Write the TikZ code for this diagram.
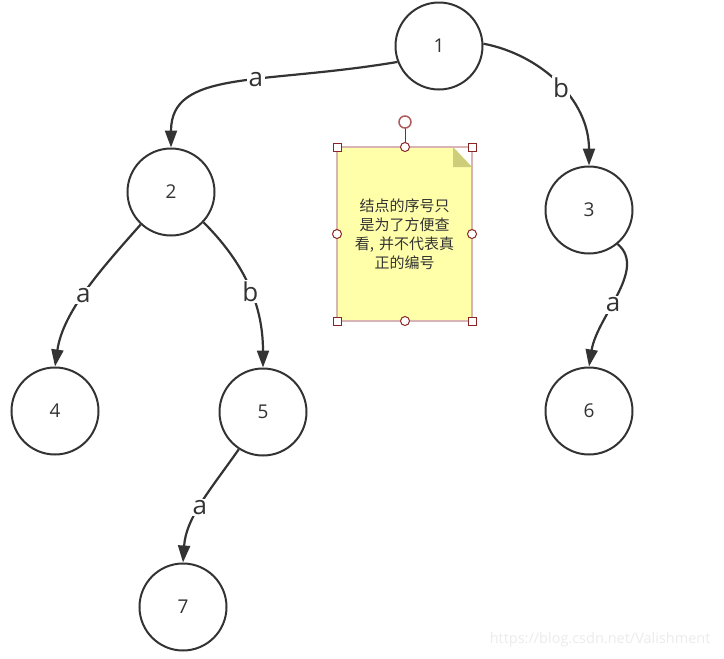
\documentclass[tikz,border=0pt]{standalone}
\usepackage{fontspec}
\setmainfont{Open Sans}
\newfontfamily\cjk{Noto Sans CJK SC}
\usetikzlibrary{arrows.meta}
\definecolor{ink}{HTML}{333333}
\definecolor{notefill}{HTML}{FFFFAA}
\definecolor{notefold}{HTML}{CDCD7A}
\definecolor{noteedge}{HTML}{D8B4B4}
\definecolor{handle}{HTML}{8B2525}
\definecolor{rothandle}{HTML}{B05A5A}
\definecolor{wmark}{HTML}{EBEBEB}
\tikzset{
  state/.style={circle, draw=ink, line width=2pt, fill=white, minimum size=87pt, inner sep=0pt, font=\fontsize{19}{22}\selectfont, text=ink},
  edge/.style={draw=ink, line width=2.2pt, -{Triangle[length=17pt,width=12pt]}},
  elabel/.style={fill=white, inner sep=1.5pt, font=\fontsize{26}{28}\selectfont, text=ink},
  sqhandle/.style={draw=handle, fill=white, line width=1pt, minimum size=8pt, inner sep=0pt},
  rdhandle/.style={circle, draw=handle, fill=white, line width=1pt, minimum size=9pt, inner sep=0pt},
}
\begin{document}
\begin{tikzpicture}[x=1pt, y=-1pt]
\useasboundingbox (0,0) rectangle (724,659);
% note
\fill[notefill] (337,147) -- (453,147) -- (472,167) -- (472,321) -- (337,321) -- cycle;
\fill[notefold] (453,147) -- (472,167) -- (453,167) -- cycle;
\draw[noteedge, line width=1.2pt] (337,147) rectangle (472,321);
\node[text width=125pt, align=center, text=ink, font=\cjk\fontsize{15}{19}\selectfont] (note) at (404.5,234) {结点的序号只\\是为了方便查\\看, 并不代表真\\正的编号};
\draw[handle, line width=1pt] (405,128) -- (405,143);
\node[rdhandle, draw=rothandle, line width=1.5pt, minimum size=12pt] (rot) at (405,122) {};
\node[sqhandle] (h1) at (337,147) {};
\node[sqhandle] (h2) at (472,147) {};
\node[sqhandle] (h3) at (337,321) {};
\node[sqhandle] (h4) at (472,321) {};
\node[rdhandle] (m1) at (405,147) {};
\node[rdhandle] (m2) at (337,234) {};
\node[rdhandle] (m3) at (472,234) {};
\node[rdhandle] (m4) at (405,321) {};
% states
\node[state] (n1) at (439,46) {1};
\node[state] (n2) at (171,192) {2};
\node[state] (n3) at (589,210) {3};
\node[state] (n4) at (55,411) {4};
\node[state] (n5) at (263,412) {5};
\node[state] (n6) at (589,411) {6};
\node[state] (n7) at (183,607) {7};
% edges
\draw[edge] (n1.201) .. controls +(-137,23) and +(0,-78) .. (n2.north) node[elabel, pos=0.41] {a};
\draw[edge] (n1.3) .. controls +(57,11) and +(0,-66) .. (n3.north) node[elabel, pos=0.53] {b};
\draw[edge] (n2.227) .. controls +(-39,44) and +(8,-55) .. (n4.north) node[elabel, pos=0.53] {a};
\draw[edge] (n2.317) .. controls +(38,38) and +(0,-66) .. (n5.north) node[elabel, pos=0.55] {b};
\draw[edge] (n3.310) .. controls +(30,25) and +(8,-50) .. (n6.north) node[elabel, pos=0.57] {a};
\draw[edge] (n5.237) .. controls +(-28,40) and +(3,-45) .. (n7.north) node[elabel, pos=0.53] {a};
% watermark
\node[text=wmark, font=\fontsize{14.5}{16}\selectfont, anchor=east] (wm) at (714,640) {https://blog.csdn.net/Valishment};
\end{tikzpicture}
\end{document}
